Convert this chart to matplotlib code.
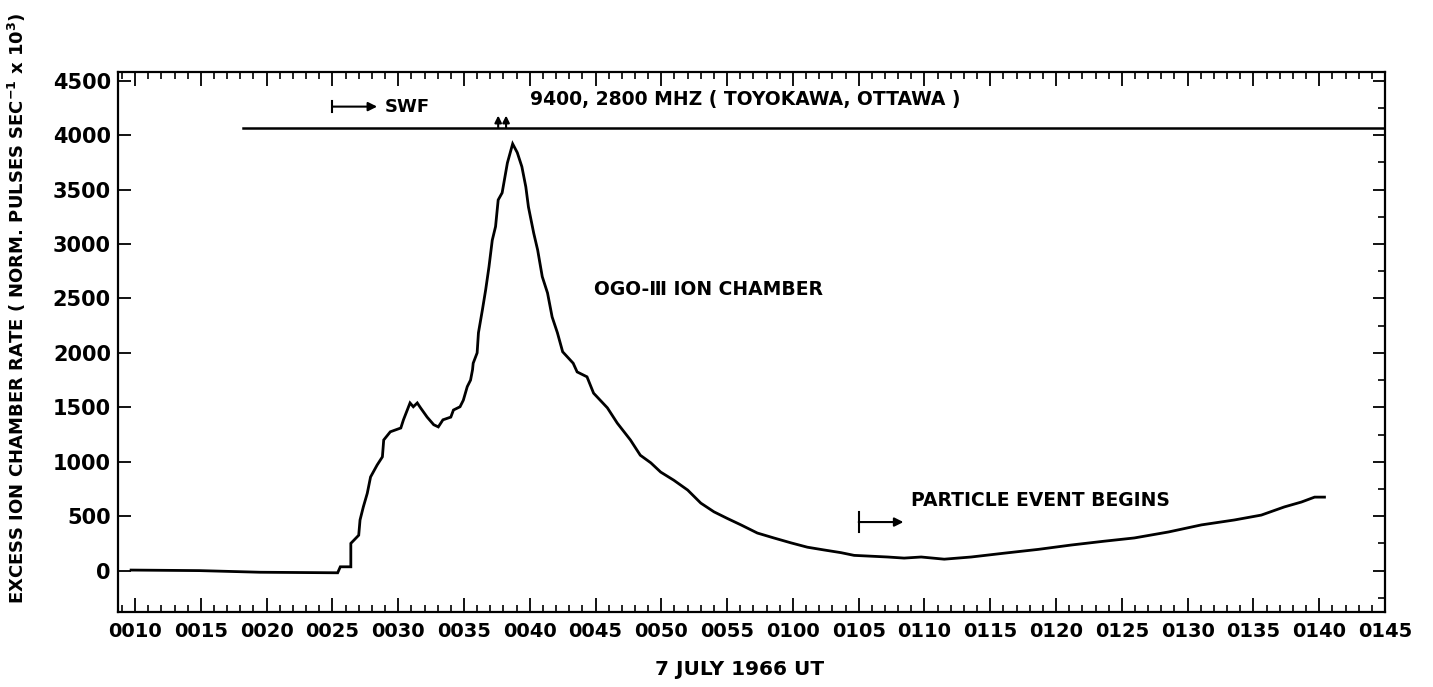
import matplotlib.pyplot as plt
from matplotlib.ticker import MultipleLocator

# OGO-III ion chamber excess rate, minutes after 0000 UT on 7 July 1966
minutes = [9.7, 14.9, 19.5, 25.4, 25.6, 26.4, 26.4, 27.0, 27.1, 27.35, 27.65,
           27.9, 28.4, 28.8, 28.9, 29.4, 30.2, 30.4, 30.9, 31.15, 31.45, 31.7,
           32.2, 32.7, 33.05, 33.4, 34.0, 34.2, 34.7, 34.95, 35.25, 35.5, 35.65,
           35.7, 36.0, 36.1, 36.4, 36.65, 36.9, 37.15, 37.4, 37.6, 37.9, 38.3,
           38.7, 39.05, 39.4, 39.7, 39.9, 40.3, 40.6, 40.95, 41.35, 41.7, 42.1,
           42.5, 43.3, 43.6, 44.35, 44.85, 45.9, 46.65, 47.65, 48.4, 49.2, 49.95,
           50.95, 52.0, 53.0, 54.0, 55.0, 56.05, 57.3, 58.55, 59.85, 61.1, 62.35,
           63.65, 64.65, 67.2, 68.45, 69.75, 71.5, 73.55, 76.05, 78.65, 81.15,
           83.65, 85.95, 88.55, 91.05, 93.55, 95.6, 97.35, 98.65, 99.65, 100.4]
rate = [5, 0, -15, -20, 35, 35, 250, 325, 465, 585, 710,
        860, 970, 1045, 1200, 1275, 1310, 1385, 1540, 1505, 1540, 1495,
        1410, 1340, 1320, 1385, 1410, 1475, 1505, 1565, 1690, 1750, 1845,
        1905, 2000, 2185, 2395, 2580, 2790, 3035, 3160, 3405, 3470, 3745,
        3920, 3840, 3710, 3525, 3340, 3100, 2945, 2700, 2550, 2330, 2185,
        2010, 1905, 1825, 1780, 1630, 1495, 1355, 1200, 1060, 990, 905,
        830, 740, 620, 540, 480, 420, 345, 300, 255, 215, 190,
        165, 140, 125, 115, 125, 105, 125, 160, 195, 235,
        270, 300, 355, 420, 465, 510, 585, 630, 675, 675]

# radio burst record (9400, 2800 MHz) and event markers
radio_start = 18.2
radio_level = 4067
burst_times = [37.6, 38.2]
swf_start, swf_end = 25.0, 28.4
particle_start, particle_end = 65.0, 68.4

tick_minutes = list(range(10, 106, 5))
tick_labels = [f"{m // 60:02d}{m % 60:02d}" for m in tick_minutes]
y_ticks = list(range(0, 4501, 500))

plt.rcParams['font.family'] = ['DejaVu Sans']
plt.rcParams['font.weight'] = 'bold'

fig = plt.figure(figsize=(14.33, 6.87), dpi=100)
ax = fig.add_axes([0.0823, 0.1092, 0.8842, 0.786])

ax.plot(minutes, rate, color='black', lw=2.0, solid_joinstyle='miter')

# horizontal line of the radio record with the two burst arrows
ax.plot([radio_start, 105], [radio_level, radio_level], color='black', lw=1.8)
for t in burst_times:
    ax.annotate('', xy=(t, 4180), xytext=(t, radio_level),
                arrowprops=dict(arrowstyle='-|>', color='black', lw=1.5,
                                mutation_scale=10, shrinkA=0, shrinkB=0))

# SWF onset
ax.annotate('', xy=(swf_end, 4262), xytext=(swf_start, 4262),
            arrowprops=dict(arrowstyle='-|>', color='black', lw=1.5,
                            mutation_scale=13, shrinkA=0, shrinkB=0))
ax.plot([swf_start, swf_start], [4215, 4310], color='black', lw=1.5)
ax.text(29.0, 4255, 'SWF', fontsize=13, fontweight='bold', va='center')

ax.text(40.0, 4324, '9400, 2800 MHZ ( TOYOKAWA, OTTAWA )', fontsize=13.5,
        fontweight='bold', va='center')
ax.text(44.85, 2580, 'OGO-\u2162 ION CHAMBER', fontsize=13.5,
        fontweight='bold', va='center')

# particle event onset
ax.annotate('', xy=(particle_end, 446), xytext=(particle_start, 446),
            arrowprops=dict(arrowstyle='-|>', color='black', lw=1.5,
                            mutation_scale=13, shrinkA=0, shrinkB=0))
ax.plot([particle_start, particle_start], [355, 540], color='black', lw=1.5)
ax.text(68.98, 640, 'PARTICLE EVENT BEGINS', fontsize=13.5,
        fontweight='bold', va='center')

ax.set_xlim(8.7, 105)
ax.set_ylim(-380, 4580)

ax.set_xticks(tick_minutes)
ax.set_xticklabels(tick_labels)
ax.xaxis.set_minor_locator(MultipleLocator(1))
ax.set_yticks(y_ticks)
ax.yaxis.set_minor_locator(MultipleLocator(250))

ax.tick_params(axis='x', which='major', direction='in', length=10, width=1.3,
               top=True, bottom=True, labelsize=14, pad=7)
ax.tick_params(axis='x', which='minor', direction='in', length=5, width=1.2,
               top=True, bottom=True)
ax.tick_params(axis='y', which='major', direction='in', length=9, width=1.3,
               left=True, right=True, labelsize=15, pad=5)
ax.tick_params(axis='y', which='minor', direction='in', length=5, width=1.2,
               left=False, right=True)
for lab in ax.get_xticklabels() + ax.get_yticklabels():
    lab.set_fontweight('bold')

for s in ax.spines.values():
    s.set_linewidth(1.6)

fig.text(0.516, 0.026, '7 JULY 1966 UT', fontsize=14.5, fontweight='bold',
         ha='center', va='center')
fig.text(0.012, 0.552,
         'EXCESS ION CHAMBER RATE ( NORM. PULSES SEC$^{\\mathbf{-1}}$ x 10$^{\\mathbf{3}}$)',
         fontsize=13, fontweight='bold', rotation=90, ha='center', va='center')

fig.savefig('out.png', dpi=100)
